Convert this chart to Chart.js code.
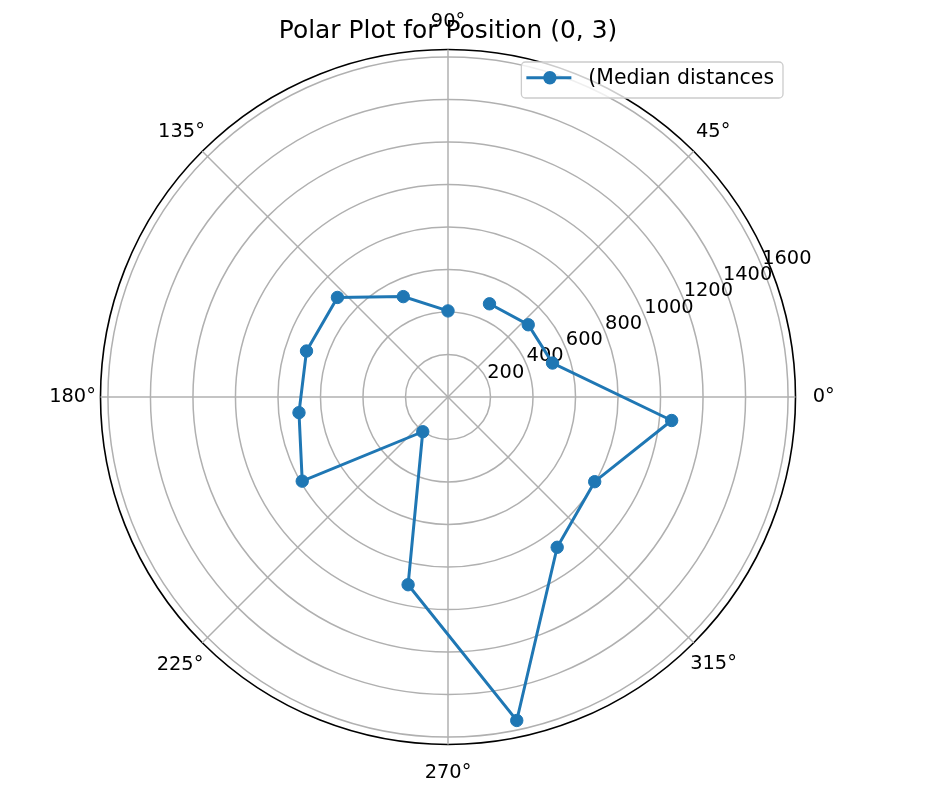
<!DOCTYPE html>
<html>
<head>
<meta charset="utf-8">
<script src="https://cdn.jsdelivr.net/npm/chart.js@4.4.1/dist/chart.umd.min.js"></script>
<style>
  html, body { margin: 0; padding: 0; background: #ffffff; }
  canvas { display: block; }
</style>
</head>
<body>
<canvas id="chart" width="928" height="797"></canvas>
<script>
// ---------------- data ----------------
const TITLE = 'Polar Plot for Position (0, 3)';
const SERIES_LABEL = '(Median distances';
// angle of each sample (degrees, counter-clockwise from east), in drawing order
const ANGLES_DEG = [66, 42, 18, 354, 330, 306, 282, 258, 234, 210, 186, 162, 138, 114, 90];
// median distance for each sample
const MEDIAN_DISTANCES = [480, 508, 517, 1058, 797, 874, 1556, 903, 202, 792, 705, 700, 700, 517, 405];
// angular tick labels (degrees)
const ANGLE_TICKS_DEG = [0, 45, 90, 135, 180, 225, 270, 315];
// radial tick labels
const RADIAL_TICKS = [200, 400, 600, 800, 1000, 1200, 1400, 1600];
const R_MAX = 1635;

// ---------------- build what the library needs ----------------
const FONT = 'DejaVu Sans';
const TICK_FONT_SIZE = 19.4;
const SLOT_DEG = 3;                       // common divisor of 24 deg and 45 deg
const N_SLOTS = 360 / SLOT_DEG;
const START_DEG = ANGLES_DEG[0];
const norm = a => ((a % 360) + 360) % 360;
const slotOf = a => norm(START_DEG - a) / SLOT_DEG;

const slotLabels = [];
for (let i = 0; i < N_SLOTS; i++) {
  const a = norm(START_DEG - i * SLOT_DEG);
  slotLabels.push(ANGLE_TICKS_DEG.includes(a) ? a + '°' : '');
}
const slotData = new Array(N_SLOTS).fill(null);
ANGLES_DEG.forEach((a, k) => { slotData[slotOf(a)] = MEDIAN_DISTANCES[k]; });

// placement of each angular label: padding (px) and line height, keyed by label text
const LABEL_PLACE = {
  '90°':  { pad: 15.4,  lh: 1.2 },
  '270°': { pad: 17.22, lh: 1.2 },
  '0°':   { pad: 17.2,  lh: 1.2 },
  '180°': { pad: 4.65,  lh: 1.2 },
  '45°':  { pad: 3.2,   lh: 1.75 },
  '135°': { pad: -3.6,  lh: 2.25 },
  '225°': { pad: -1.5,  lh: 2.4 },
  '315°': { pad: -5.0,  lh: 2.6 }
};
const placeOf = label => LABEL_PLACE[label] || { pad: 0, lh: 1.2 };

// radar controller whose line is an open path (no closing segment)
class OpenRadarController extends Chart.RadarController {
  static id = 'openRadar';
  update(mode) {
    super.update(mode);
    const line = this._cachedMeta.dataset;
    if (line) {
      line._loop = false;
      line._fullLoop = false;
      delete line._segments;
      line._path = undefined;
    }
  }
}
Chart.register(OpenRadarController);

// radial tick labels along 22.5 deg
const radialTickLabels = {
  id: 'radialTickLabels',
  beforeDatasetsDraw(chart) {
    const s = chart.scales.r;
    const ctx = chart.ctx;
    const a = 22.5 * Math.PI / 180;
    ctx.save();
    ctx.font = TICK_FONT_SIZE + 'px "' + FONT + '"';
    ctx.fillStyle = '#000000';
    ctx.textAlign = 'left';
    ctx.textBaseline = 'alphabetic';
    RADIAL_TICKS.forEach(v => {
      const d = s.getDistanceFromCenterForValue(v);
      ctx.fillText(String(v), s.xCenter + d * Math.cos(a), s.yCenter - d * Math.sin(a) - 3);
    });
    ctx.restore();
  }
};

// legend box inside the plot, upper right
const insetLegend = {
  id: 'insetLegend',
  afterDraw(chart) {
    const ds = chart.data.datasets[0];
    const s = chart.scales.r;
    const ctx = chart.ctx;
    ctx.save();
    ctx.font = '20.4px "' + FONT + '"';
    const tw = ctx.measureText(ds.label).width;
    const right = s.xCenter + s.drawingArea - 12.5;
    const top = s.yCenter - s.drawingArea + 12.5;
    const w = 76 + tw, h = 36, r = 4;
    const left = right - w;
    ctx.beginPath();
    ctx.moveTo(left + r, top);
    ctx.lineTo(right - r, top);
    ctx.arcTo(right, top, right, top + r, r);
    ctx.lineTo(right, top + h - r);
    ctx.arcTo(right, top + h, right - r, top + h, r);
    ctx.lineTo(left + r, top + h);
    ctx.arcTo(left, top + h, left, top + h - r, r);
    ctx.lineTo(left, top + r);
    ctx.arcTo(left, top, left + r, top, r);
    ctx.closePath();
    ctx.fillStyle = 'rgba(255,255,255,0.8)';
    ctx.fill();
    ctx.lineWidth = 1.3;
    ctx.strokeStyle = '#cccccc';
    ctx.stroke();
    const cy = top + 15.8;
    ctx.beginPath();
    ctx.moveTo(left + 5, cy);
    ctx.lineTo(left + 50, cy);
    ctx.lineWidth = ds.borderWidth;
    ctx.strokeStyle = ds.borderColor;
    ctx.stroke();
    ctx.beginPath();
    ctx.arc(left + 28.5, cy, ds.pointRadius + ds.pointBorderWidth / 2, 0, Math.PI * 2);
    ctx.fillStyle = ds.pointBackgroundColor;
    ctx.fill();
    ctx.fillStyle = '#000000';
    ctx.textAlign = 'left';
    ctx.textBaseline = 'middle';
    ctx.fillText(ds.label, left + 67, top + 17);
    ctx.restore();
  }
};

Chart.defaults.font.family = FONT;

const TITLE_SIZE = 24.9;
new Chart(document.getElementById('chart'), {
  type: 'openRadar',
  data: {
    labels: slotLabels,
    datasets: [{
      label: SERIES_LABEL,
      data: slotData,
      spanGaps: true,
      fill: false,
      tension: 0,
      borderColor: '#1f77b4',
      backgroundColor: '#1f77b4',
      borderWidth: 3,
      pointRadius: 6.2,
      pointBorderWidth: 1,
      pointBackgroundColor: '#1f77b4',
      pointBorderColor: '#1f77b4'
    }]
  },
  options: {
    responsive: false,
    animation: false,
    layout: { padding: { left: 0, right: 32, top: 10, bottom: 11 } },
    plugins: {
      legend: { display: false },
      tooltip: { enabled: false },
      title: {
        display: true,
        text: TITLE,
        color: '#000000',
        font: { family: FONT, size: TITLE_SIZE, weight: 'normal', lineHeight: 1.2 },
        padding: { top: 7.06, bottom: -(7.06 + TITLE_SIZE * 1.2) }
      }
    },
    scales: {
      r: {
        type: 'radialLinear',
        min: 0,
        max: R_MAX,
        startAngle: 90 - START_DEG,
        ticks: { display: false, stepSize: RADIAL_TICKS[1] - RADIAL_TICKS[0], includeBounds: false },
        afterBuildTicks: scale => {
          scale.ticks = [0, ...RADIAL_TICKS, R_MAX].map(v => ({ value: v }));
        },
        grid: {
          circular: true,
          color: c => (c.tick && c.tick.value === R_MAX) ? '#000000' : '#b0b0b0',
          lineWidth: c => (c.tick && c.tick.value === R_MAX) ? 1.6 : 1.5
        },
        angleLines: {
          display: true,
          color: '#b0b0b0',
          lineWidth: c => c.label ? 1.5 : 0
        },
        pointLabels: {
          display: true,
          color: '#000000',
          font: c => ({ family: FONT, size: TICK_FONT_SIZE, lineHeight: placeOf(c.label).lh }),
          padding: c => placeOf(c.label).pad
        }
      }
    }
  },
  plugins: [radialTickLabels, insetLegend]
});
</script>
</body>
</html>
